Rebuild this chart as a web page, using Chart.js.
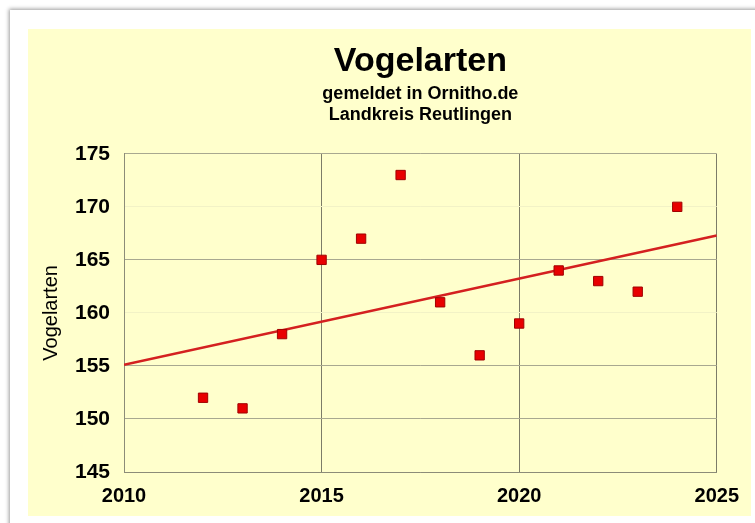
<!DOCTYPE html>
<html>
<head>
<meta charset="utf-8">
<script src="https://cdn.jsdelivr.net/npm/chart.js@4"></script>
<style>
    html, body { margin: 0; padding: 0; background: #fff; overflow: hidden; }
    #frame {
        position: absolute; left: 10px; top: 10px; width: 800px; height: 560px;
        background: #fff; box-shadow: -1px -1px 4px rgba(0,0,0,0.4);
    }
    #panel {
        position: absolute; left: 28px; top: 29px; width: 723px; height: 487px;
        background: #FFFFCC;
    }
</style>
</head>
<body>
<div id="frame"></div>
<div id="panel"><canvas id="chart" width="723" height="487"></canvas></div>
<script>
// Values
const years = [2012, 2013, 2014, 2015, 2016, 2017, 2018, 2019, 2020, 2021, 2022, 2023, 2024];
const species = [152, 151, 158, 165, 167, 173, 161, 156, 159, 164, 163, 162, 170];
// trend line end points
const trendYears = [2010, 2025];
const trendValues = [155.1, 167.3];

const FONT = '"Liberation Sans", Arial, sans-serif';
const faintLines = [160, 170];

document.addEventListener('DOMContentLoaded', function() {
    const ctx = document.getElementById('chart').getContext('2d');

    new Chart(ctx, {
        type: 'scatter',
        data: {
            datasets: [{
                label: 'Vogelarten',
                data: years.map((y, i) => ({ x: y, y: species[i] })),
                order: 1,
                pointStyle: 'rect',
                pointRadius: 6.6,
                pointHoverRadius: 6.6,
                backgroundColor: '#E80000',
                borderColor: '#A00000',
                borderWidth: 1
            }, {
                label: 'Trend',
                data: trendYears.map((y, i) => ({ x: y, y: trendValues[i] })),
                order: 2,
                showLine: true,
                pointRadius: 0,
                borderColor: '#D42020',
                borderWidth: 2.5,
                fill: false
            }]
        },
        options: {
            responsive: false,
            animation: false,
            layout: { padding: { left: 0, right: 34, top: 0, bottom: 0 } },
            plugins: {
                legend: { display: false },
                tooltip: { enabled: false },
                title: {
                    display: true,
                    text: 'Vogelarten',
                    fullSize: false,
                    color: '#000',
                    font: { family: FONT, size: 34, weight: 'bold', lineHeight: 1.2 },
                    padding: { top: 12, bottom: 0 }
                },
                subtitle: {
                    display: true,
                    text: ['gemeldet in Ornitho.de', 'Landkreis Reutlingen'],
                    fullSize: false,
                    color: '#000',
                    font: { family: FONT, size: 18, weight: 'bold', lineHeight: 1.1667 },
                    padding: { top: 2, bottom: 28 }
                }
            },
            scales: {
                x: {
                    type: 'linear',
                    min: 2010,
                    max: 2025,
                    afterFit: function(scale) { scale.height = 44; },
                    ticks: {
                        stepSize: 5,
                        padding: 12,
                        color: '#000',
                        font: { family: FONT, size: 20, weight: 'bold' },
                        callback: v => String(v)
                    },
                    grid: { color: '#7C7C68', lineWidth: 1, drawTicks: false },
                    border: { display: true, color: '#8C8C78', width: 1 }
                },
                y: {
                    min: 145,
                    max: 175,
                    afterFit: function(scale) { scale.width = 96; },
                    ticks: {
                        stepSize: 5,
                        padding: 14,
                        color: '#000',
                        font: { family: FONT, size: 21, weight: 'bold' }
                    },
                    grid: {
                        drawTicks: false,
                        lineWidth: 1,
                        color: c => faintLines.includes(c.tick.value) ? '#F2F2C6' : '#A8A890'
                    },
                    border: { display: true, color: '#8C8C78', width: 1 },
                    title: {
                        display: true,
                        text: 'Vogelarten',
                        color: '#000',
                        font: { family: FONT, size: 20, lineHeight: 1.2 },
                        padding: { top: 11, bottom: 0 }
                    }
                }
            }
        }
    });
});
</script>
</body>
</html>
